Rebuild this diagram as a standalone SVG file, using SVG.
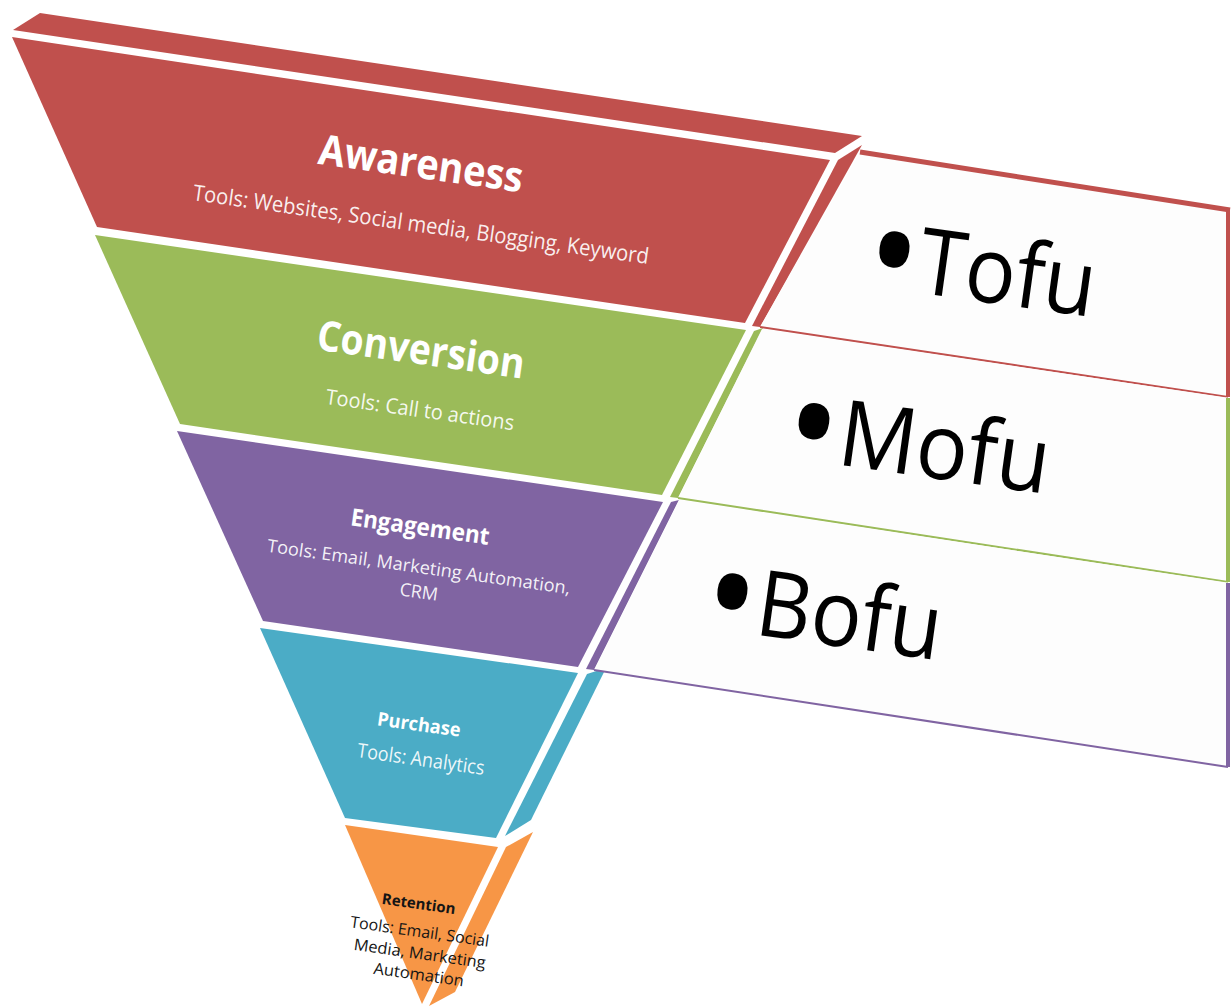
<svg xmlns="http://www.w3.org/2000/svg" width="1232" height="1006" viewBox="0 0 1232 1006">
<style>
.red{fill:#C0504D}.green{fill:#9BBB59}.purple{fill:#8064A2}.blue{fill:#4BACC6}.orange{fill:#F79646}
.title{font-family:'Open Sans',sans-serif;font-weight:700;fill:#fff;text-anchor:middle}
.tools{font-family:'Open Sans',sans-serif;fill:#fff;fill-opacity:.92;text-anchor:middle}
.dark{fill:#151515;fill-opacity:1}
.box{fill:#fdfdfd}
.big{font-family:'Open Sans',sans-serif;font-size:92px;fill:#000}
.bul{font-size:155px}
</style>
<rect width="1232" height="1006" fill="#fff"/>
<g id="layer-awareness">
  <polygon class="red" points="13,30 40,13 862,136 835,153"/>
  <polygon class="red" points="12,37 830,160 745,323 97,227"/>
  <polygon class="red" points="838,160 862,145 760,327 752,326"/>
  <text class="title" font-size="42" textLength="206" lengthAdjust="spacingAndGlyphs" transform="translate(419,178) rotate(8)">Awareness</text>
  <text class="tools" font-size="22" textLength="460" lengthAdjust="spacingAndGlyphs" transform="translate(420,232) rotate(8)">Tools: Websites, Social media, Blogging, Keyword</text>
</g>
<g id="layer-conversion">
  <polygon class="green" points="95,235 746,330 662,495 180,424"/>
  <polygon class="green" points="754,331 763,328 678,498 670,497"/>
  <text class="title" font-size="42" textLength="209" lengthAdjust="spacingAndGlyphs" transform="translate(419,364) rotate(8)">Conversion</text>
  <text class="tools" font-size="21" textLength="190" lengthAdjust="spacingAndGlyphs" transform="translate(419,417) rotate(8)">Tools: Call to actions</text>
</g>
<g id="layer-engagement">
  <polygon class="purple" points="177,431 663,502 578,667 263,621"/>
  <polygon class="purple" points="671,502 679,500 594,670 586,669"/>
  <text class="title" font-size="24" textLength="140" lengthAdjust="spacingAndGlyphs" transform="translate(419,535) rotate(8)">Engagement</text>
  <text class="tools" font-size="18" textLength="306" lengthAdjust="spacingAndGlyphs" transform="translate(418,573) rotate(8)">Tools: Email, Marketing Automation,</text>
  <text class="tools" font-size="18" transform="translate(418,598) rotate(8)">CRM</text>
</g>
<g id="layer-purchase">
  <polygon class="blue" points="260,628 578,673 496,838 345,818"/>
  <polygon class="blue" points="587,674 606,668 531,820 505,836"/>
  <text class="title" font-size="19" textLength="84" lengthAdjust="spacingAndGlyphs" transform="translate(418,731) rotate(8)">Purchase</text>
  <text class="tools" font-size="20" textLength="128" lengthAdjust="spacingAndGlyphs" transform="translate(420,766) rotate(8)">Tools: Analytics</text>
</g>
<g id="layer-retention">
  <polygon class="orange" points="345,825 498,847 422,1004"/>
  <polygon class="orange" points="506,847 533,832 455,992 429,1006"/>
  <text class="title dark" font-size="15" textLength="74" lengthAdjust="spacingAndGlyphs" transform="translate(418,909) rotate(8)">Retention</text>
  <text class="tools dark" font-size="16" textLength="140" lengthAdjust="spacingAndGlyphs" transform="translate(419,937) rotate(8)">Tools: Email, Social</text>
  <text class="tools dark" font-size="16" textLength="133" lengthAdjust="spacingAndGlyphs" transform="translate(419,959) rotate(8)">Media, Marketing</text>
  <text class="tools dark" font-size="16" textLength="91" lengthAdjust="spacingAndGlyphs" transform="translate(418,980) rotate(8)">Automation</text>
</g>
<g id="box-tofu">
  <polygon class="box" points="860,152 1230,210 1230,397 760,327"/>
  <line x1="860" y1="152" x2="1230" y2="210" stroke="#C0504D" stroke-width="5"/>
  <line x1="1228" y1="209" x2="1228" y2="397" stroke="#C0504D" stroke-width="4"/>
  <line x1="760" y1="327" x2="1228" y2="397" stroke="#C0504D" stroke-width="2"/>
  <text class="big" transform="translate(906,291) rotate(8) scale(0.92,1)" x="-48"><tspan class="bul" dy="17">•</tspan><tspan dy="-17">Tofu</tspan></text>
</g>
<g id="box-mofu">
  <polygon class="box" points="762,329 1230,398 1230,582 678,498"/>
  <line x1="1228" y1="398" x2="1228" y2="582" stroke="#9BBB59" stroke-width="4"/>
  <line x1="678" y1="498" x2="1228" y2="582" stroke="#9BBB59" stroke-width="2"/>
  <text class="big" transform="translate(826,463) rotate(8) scale(0.94,1)" x="-48"><tspan class="bul" dy="17">•</tspan><tspan dy="-17">Mofu</tspan></text>
</g>
<g id="box-bofu">
  <polygon class="box" points="679,500 1230,583 1230,767 594,670"/>
  <line x1="1228" y1="583" x2="1228" y2="767" stroke="#8064A2" stroke-width="4"/>
  <line x1="594" y1="670" x2="1228" y2="767" stroke="#8064A2" stroke-width="2"/>
  <text class="big" transform="translate(744,633) rotate(8) scale(0.92,1)" x="-48"><tspan class="bul" dy="17">•</tspan><tspan dy="-17">Bofu</tspan></text>
</g>
<g id="connectors"/>
</svg>
